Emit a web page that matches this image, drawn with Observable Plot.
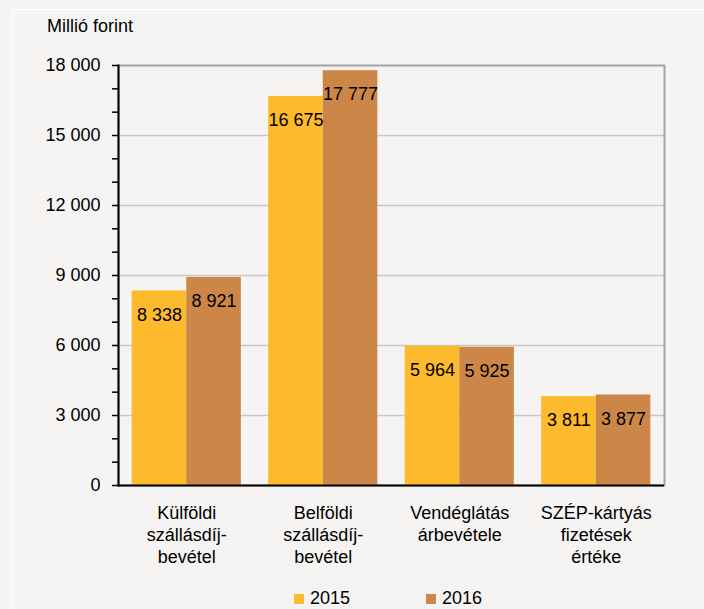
<!DOCTYPE html>
<html><head><meta charset="utf-8">
<script src="https://cdn.jsdelivr.net/npm/d3@7"></script>
<script src="https://cdn.jsdelivr.net/npm/@observablehq/plot@0.6"></script>
<style>
html,body{margin:0;padding:0;background:#f5f4f2;}
#wrap{position:relative;width:704px;height:609px;overflow:hidden;font-family:"Liberation Sans",Arial,sans-serif;color:#000;}
#frame{position:absolute;left:12px;top:9px;width:800px;height:700px;border-top:1px solid #fff;border-left:1px solid #fff;}
#title{position:absolute;left:47px;top:17px;font-size:18px;line-height:18px;}
#chart{position:absolute;left:0;top:0;}
#legend{position:absolute;top:589px;left:294px;display:flex;font-size:18px;line-height:18px;}
.item{display:flex;align-items:flex-start;}
.sw{width:10px;height:10px;margin-top:5px;margin-right:6px;}
</style>
</head><body>
<div id="wrap">
  <div id="frame"></div>
  <div id="chart"></div>
  <div id="title">Millió forint</div>
  <div id="legend"></div>
</div>
<script>
const categories = ["Külföldi szállásdíj-bevétel","Belföldi szállásdíj-bevétel","Vendéglátás árbevétele","SZÉP-kártyás fizetések értéke"];
const categoryLabels = ["Külföldi\nszállásdíj-\nbevétel","Belföldi\nszállásdíj-\nbevétel","Vendéglátás\nárbevétele","SZÉP-kártyás\nfizetések\nértéke"];
const years = ["2015","2016"];
const values2015 = [8338,16675,5964,3811];
const values2016 = [8921,17777,5925,3877];
const yTicks = [0,3000,6000,9000,12000,15000,18000];
const yMinorTicks = d3.range(0,18001,1000);
const colors = ["#fdba2c","#cc8748"];

const W = 704, H = 575, mL = 118, mR = 40, mT = 65, mB = 90;
const pInner = 0.2, pOuter = 0.1;
const step = (W - mL - mR) / (categories.length - pInner + 2 * pOuter);
const bw = step * (1 - pInner);

const locale = d3.formatLocale({decimal:",", thousands:" ", grouping:[3], currency:["",""]});
const fmt = locale.format(",d");
const labelOf = new Map(categories.map((c,i)=>[c, categoryLabels[i]]));

const d2015 = categories.map((c,i)=>({category:c, year:years[0], value:values2015[i]}));
const d2016 = categories.map((c,i)=>({category:c, year:years[1], value:values2016[i]}));
const font = '"Liberation Sans",Arial,sans-serif';
const fs = 18;

const plot = Plot.plot({
  width: W, height: H,
  marginLeft: mL, marginRight: mR, marginTop: mT, marginBottom: mB,
  style: {background:"transparent", fontFamily: font, fontSize: fs + "px", overflow:"visible", color:"#000"},
  x: {type:"band", domain: categories, paddingInner: pInner, paddingOuter: pOuter, round:false, label:null},
  y: {domain:[0,18000], label:null},
  marks: [
    Plot.gridY(yTicks.filter(t=>t>0 && t<18000), {stroke:"#c8c8c8", strokeOpacity:1, strokeWidth:1.5}),
    Plot.frame({stroke:"#a3a3a3", strokeWidth:2}),
    Plot.barY(d2015, {x:"category", y:"value", fill:colors[0], insetRight: bw/2}),
    Plot.barY(d2016, {x:"category", y:"value", fill:colors[1], insetLeft: bw/2}),
    Plot.text(d2015, {x:"category", y:"value", text:d=>fmt(d.value), dx:-bw/4, dy:17, lineAnchor:"top", fontSize:fs, fill:"#000"}),
    Plot.text(d2016, {x:"category", y:"value", text:d=>fmt(d.value), dx:bw/4, dy:17, lineAnchor:"top", fontSize:fs, fill:"#000"}),
    Plot.frame({anchor:"left", stroke:"#000", strokeWidth:2}),
    Plot.ruleY([0], {stroke:"#000", strokeWidth:2}),
    Plot.axisY(yMinorTicks, {tickSize:6, tickFormat:()=>"", stroke:"#000", strokeWidth:1.5, label:null}),
    Plot.axisY(yTicks, {tickSize:0, tickPadding:18, tickFormat:fmt, fontSize:fs, fill:"#000", label:null}),
    Plot.axisX({tickSize:0, tickPadding:18, tickFormat:d=>labelOf.get(d), lineHeight:22/fs, fontSize:fs, fill:"#000", label:null})
  ]
});
document.getElementById("chart").appendChild(plot);

const legend = d3.select("#legend");
years.forEach((y,i)=>{
  const it = legend.append("div").attr("class","item").style("margin-right", i===0 ? "76px" : "0");
  it.append("div").attr("class","sw").style("background", colors[i]);
  it.append("div").text(y);
});
</script>
</body></html>
